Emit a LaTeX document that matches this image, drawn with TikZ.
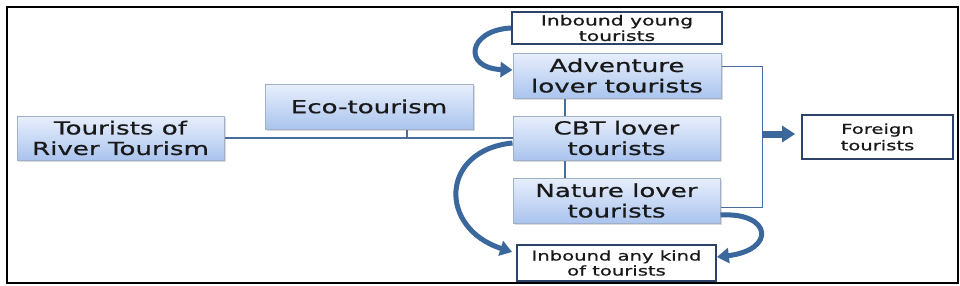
\documentclass[tikz,border=0pt]{standalone}
\usepackage{fontspec}
\setmainfont{DejaVu Sans}[FakeStretch=1.45,FakeBold=0.8]
\usetikzlibrary{arrows.meta,shadows}
\definecolor{boxtop}{RGB}{232,239,252}
\definecolor{boxbot}{RGB}{170,196,238}
\definecolor{boxline}{RGB}{160,176,200}
\definecolor{navy}{RGB}{44,66,104}
\definecolor{connc}{RGB}{74,110,154}
\definecolor{arrc}{RGB}{58,103,156}
\begin{document}
\begin{tikzpicture}[x=1pt,y=-1pt,
 bluebox/.style={draw=boxline, line width=1pt, top color=boxtop, bottom color=boxbot, inner sep=0pt, align=center, text=black!90, font=\fontsize{18}{20.5}\selectfont, drop shadow={shadow xshift=1.5pt,shadow yshift=-1.5pt,fill=black!40,opacity=0.35}},
 whitebox/.style={draw=navy, line width=1.8pt, fill=white, inner sep=0pt, align=center, text=black!90},
 connline/.style={draw=connc, line width=2pt},
 thinline/.style={draw=connc, line width=1pt},
 curvearrow/.style={draw=arrc, line width=5pt, -{Triangle[length=12pt,width=15pt]}},
 blockarrow/.style={draw=arrc, line width=7pt, -{Triangle[length=13pt,width=16pt]}}
]
\useasboundingbox (0,0) rectangle (960,285);
\draw[line width=2pt, black] (7,7) rectangle (958,283);

\node[bluebox, minimum width=207pt, minimum height=44pt] (river) at (120.5,138) {Tourists of\\River Tourism};
\node[bluebox, minimum width=208pt, minimum height=45pt] (eco) at (369,106.5) {Eco-tourism};
\node[whitebox, minimum width=210pt, minimum height=32pt, font=\fontsize{14}{15.5}\selectfont] (young) at (617,28) {Inbound young\\tourists};
\node[bluebox, minimum width=208pt, minimum height=45pt] (adv) at (617,75.5) {Adventure\\lover tourists};
\node[bluebox, minimum width=207pt, minimum height=44pt] (cbt) at (616.5,138) {CBT lover\\tourists};
\node[bluebox, minimum width=207pt, minimum height=45pt] (nature) at (616.5,200.5) {Nature lover\\tourists};
\node[whitebox, minimum width=199pt, minimum height=36pt, font=\fontsize{13.5}{15}\selectfont] (any) at (616.5,263) {Inbound any kind\\of tourists};
\node[whitebox, minimum width=151pt, minimum height=44pt, font=\fontsize{13.5}{16.5}\selectfont] (foreign) at (877.5,137) {Foreign\\tourists};

% tree lines
\coordinate (ej) at (407,138);
\draw[connline] (river.east) -- (cbt.west);
\draw[connline] (ej |- eco.south) -- (ej);
\coordinate (vx) at (565,0);
\draw[connline] (adv.south -| vx) -- (cbt.north -| vx);
\draw[connline] (cbt.south -| vx) -- (nature.north -| vx);

% bracket
\coordinate (bt) at (762,66);
\coordinate (bb) at (762,207);
\coordinate (bm) at (762,134);
\draw[thinline] (adv.east |- bt) -- (bt) -- (bb) -- (nature.east |- bb);
\draw[blockarrow] (bm) -- ([xshift=-6pt]foreign.west |- bm);

% curved arrows
\draw[curvearrow] (young.west) .. controls (468,30) and (462,68) .. ([yshift=5.5pt]adv.west);
\draw[curvearrow] ([yshift=-5pt]cbt.west) .. controls (440,150) and (438,228) .. ([xshift=-4pt,yshift=11pt]any.west);
\draw[curvearrow] ([yshift=-14.5pt]nature.east) .. controls (772,212) and (776,250) .. ([yshift=6pt]any.east);
\end{tikzpicture}
\end{document}
